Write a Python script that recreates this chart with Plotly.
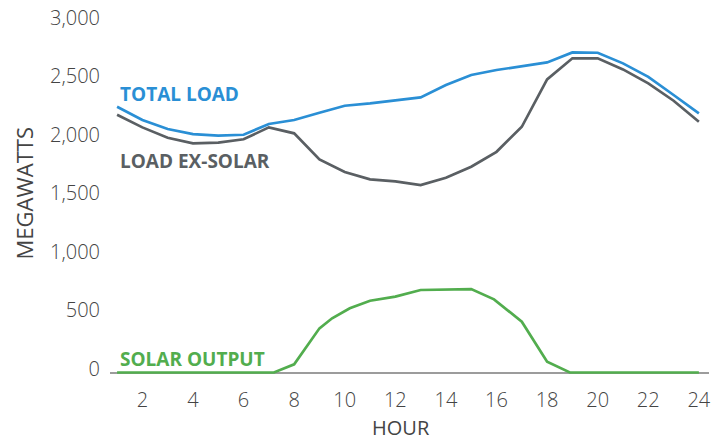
import plotly.graph_objects as go

hours = list(range(1, 25))
total_load = [2274, 2161, 2084, 2041, 2027, 2035, 2127, 2161, 2223, 2283, 2303, 2326,
              2355, 2460, 2546, 2589, 2623, 2654, 2740, 2737, 2646, 2531, 2375, 2218]
load_ex_solar = [2206, 2098, 2009, 1961, 1967, 1996, 2098, 2047, 1824, 1716, 1653, 1636,
                 1604, 1667, 1761, 1889, 2103, 2509, 2689, 2689, 2594, 2475, 2326, 2146]
solar_hours = [1, 2, 3, 4, 5, 6, 7.2, 8, 9, 9.5, 10.2, 11, 12, 13, 14, 15, 15.9, 16.5,
               17, 18, 18.9, 20, 21, 22, 23, 24]
solar_output = [0, 0, 0, 0, 0, 0, 0, 70, 378, 464, 549, 614, 649, 706, 710, 714, 626, 520,
                435, 92, 0, 0, 0, 0, 0, 0]

y_ticks = [0, 500, 1000, 1500, 2000, 2500, 3000]
x_ticks = list(range(2, 25, 2))

BLUE = "#2a8fd5"
GRAY = "#5a5f63"
GREEN = "#52ad4e"
TEXT = "#444444"

# the page body has an 8px default margin: the figure is placed at (8, 8) in the window
OFF = 8
W, H = 722 - OFF, 440 - OFF
# plot area in window pixels
PLOT_TOP, PLOT_BOTTOM = 10, 376
PLOT_LEFT, PLOT_RIGHT = 110, 709
Y_MIN = -30
Y_MAX = Y_MIN + 3030 * (PLOT_BOTTOM - PLOT_TOP) / 354.0


def py(pix):
    return (PLOT_BOTTOM - pix) / (PLOT_BOTTOM - PLOT_TOP)


def px(pix):
    return (pix - PLOT_LEFT) / (PLOT_RIGHT - PLOT_LEFT)


fig = go.Figure()
fig.add_trace(go.Scatter(x=solar_hours, y=solar_output, mode="lines",
                         line=dict(color=GREEN, width=2.7), hoverinfo="skip"))
fig.add_trace(go.Scatter(x=hours, y=load_ex_solar, mode="lines",
                         line=dict(color=GRAY, width=2.7), hoverinfo="skip"))
fig.add_trace(go.Scatter(x=hours, y=total_load, mode="lines",
                         line=dict(color=BLUE, width=2.7), hoverinfo="skip"))

label_font = dict(family="Open Sans", size=19, weight="bold")
fig.add_annotation(x=px(118), y=py(94.5), xref="paper", yref="paper", text="TOTAL LOAD",
                   showarrow=False, xanchor="left", yanchor="middle",
                   font=dict(**label_font, color=BLUE))
fig.add_annotation(x=px(118), y=py(161), xref="paper", yref="paper", text="LOAD EX-SOLAR",
                   showarrow=False, xanchor="left", yanchor="middle",
                   font=dict(**label_font, color=GRAY))
fig.add_annotation(x=px(118), y=py(358.7), xref="paper", yref="paper", text="SOLAR OUTPUT",
                   showarrow=False, xanchor="left", yanchor="middle",
                   font=dict(**label_font, color=GREEN))

fig.add_annotation(text="MEGAWATTS", showarrow=False, textangle=-90,
                   xref="paper", yref="paper", x=px(23.5), y=py(194),
                   xanchor="center", yanchor="middle",
                   font=dict(family="Open Sans", size=22, color=TEXT))
fig.add_annotation(text="HOUR", showarrow=False,
                   xref="paper", yref="paper", x=px(401), y=py(427),
                   xanchor="center", yanchor="middle",
                   font=dict(family="Open Sans", size=20, color=TEXT))

fig.update_layout(
    width=W, height=H,
    margin=dict(l=PLOT_LEFT - OFF, r=(W + OFF) - PLOT_RIGHT, t=PLOT_TOP - OFF,
                b=(H + OFF) - PLOT_BOTTOM, pad=0),
    paper_bgcolor="white", plot_bgcolor="white",
    showlegend=False,
    font=dict(family="Open Sans", color=TEXT, size=20),
)
fig.update_xaxes(range=[0.72, 24.4], tickvals=x_ticks, showgrid=False, zeroline=False,
                 showline=False, ticks="", ticklabelstandoff=10, automargin=False,
                 ticklabeloverflow="allow",
                 tickfont=dict(family="Open Sans", size=20, color=TEXT, weight=300))
fig.update_yaxes(range=[Y_MIN, Y_MAX], tickvals=y_ticks, tickformat=",", showgrid=False,
                 zeroline=True, zerolinecolor="#9c9c9c", zerolinewidth=1.5,
                 showline=False, ticks="", ticklabelstandoff=9, ticklabelshift=-4,
                 automargin=False, ticklabeloverflow="allow",
                 tickfont=dict(family="Open Sans", size=20, color=TEXT, weight=300))

fig.write_html("out.html")
